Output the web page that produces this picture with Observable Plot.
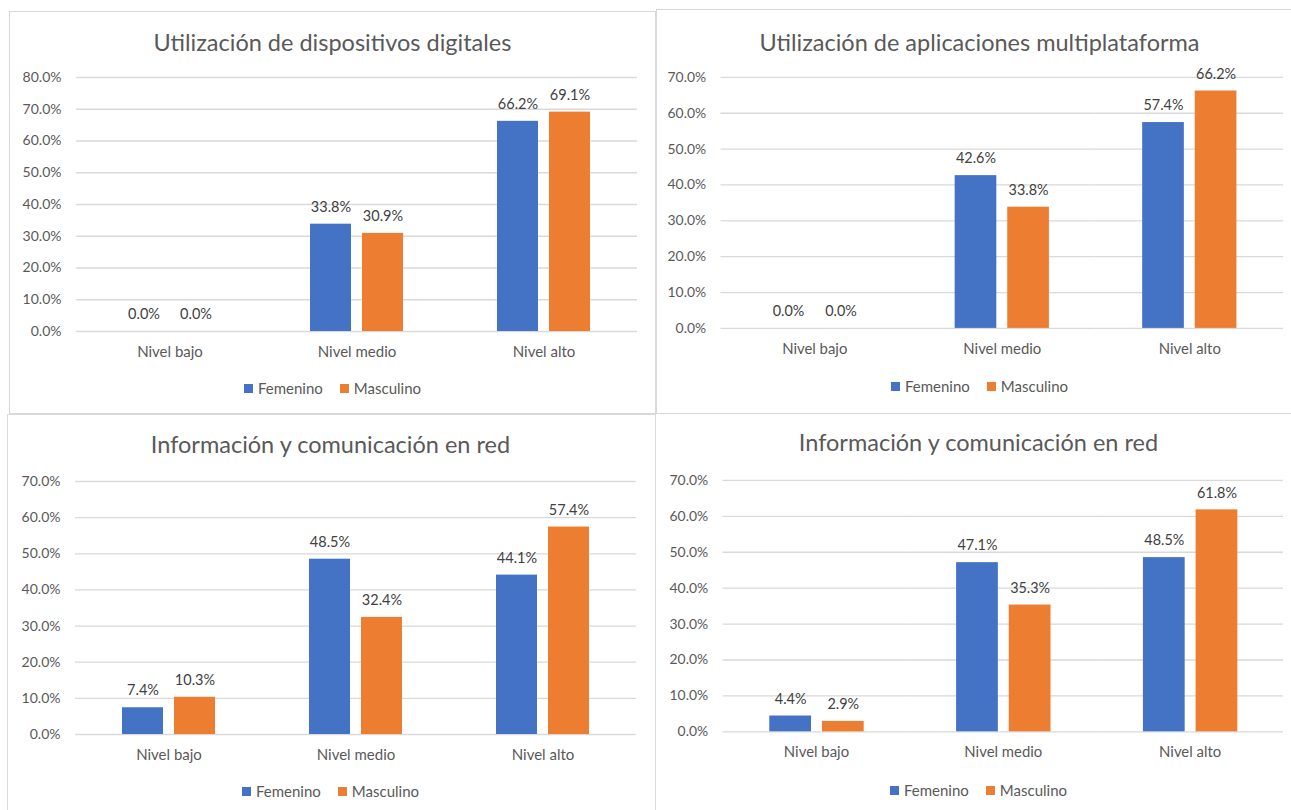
<!DOCTYPE html>
<html>
<head>
<meta charset="utf-8">
<script src="https://cdn.jsdelivr.net/npm/d3@7"></script>
<script src="https://cdn.jsdelivr.net/npm/@observablehq/plot@0.6"></script>
<style>
  html, body { margin: 0; padding: 0; background: #fff; overflow: hidden; }
  body { width: 1291px; height: 810px; position: relative; font-family: Lato, "Open Sans", sans-serif; }
  .panel { position: absolute; border: 1.5px solid #d9d9d9; box-sizing: border-box; background: #fff; }
  .title { position: absolute; text-align: center; color: #595959; font-size: 23.5px; white-space: nowrap; }
  .chart { position: absolute; }
  .legend { position: absolute; display: flex; justify-content: center; align-items: center; gap: 17px; color: #595959; font-size: 15px; }
  .legend span.item { display: inline-flex; align-items: center; gap: 5px; }
  .legend span.sw { display: inline-block; width: 9px; height: 9px; }
</style>
</head>
<body>
<script>
// ---------- data ----------
const categories = ["Nivel bajo", "Nivel medio", "Nivel alto"];
const sexes = ["Femenino", "Masculino"];
const titles = [
  "Utilización de dispositivos digitales",
  "Utilización de aplicaciones multiplataforma",
  "Información y comunicación en red",
  "Información y comunicación en red"
];
const femenino1 = [0.0, 33.8, 66.2];
const masculino1 = [0.0, 30.9, 69.1];
const femenino2 = [0.0, 42.6, 57.4];
const masculino2 = [0.0, 33.8, 66.2];
const femenino3 = [7.4, 48.5, 44.1];
const masculino3 = [10.3, 32.4, 57.4];
const femenino4 = [4.4, 47.1, 48.5];
const masculino4 = [2.9, 35.3, 61.8];
const yTicks1 = [0, 10, 20, 30, 40, 50, 60, 70, 80];
const yTicks2 = [0, 10, 20, 30, 40, 50, 60, 70];

// ---------- styling / layout ----------
const colors = ["#4472C4", "#ED7D31"];
const pct = d => d.toFixed(1) + "%";

const layouts = [
  {panel: [9, 11, 647, 403], title: 42, svg: [9, 62], w: 640, mt: 15, plotH: 254, ml: 66, mr: 11, legend: 388},
  {panel: [656, 9, 660, 405], title: 42, svg: [656, 62], w: 640, mt: 15, plotH: 253, ml: 65, mr: 8, legend: 386},
  {panel: [7, 414, 649, 410], title: 444, svg: [7, 466], w: 640, mt: 15, plotH: 253, ml: 68, mr: 11, legend: 791},
  {panel: [655, 413, 660, 410], title: 442, svg: [655, 465], w: 640, mt: 15, plotH: 253, ml: 67, mr: 7, legend: 790}
];

const series = [
  [femenino1, masculino1, yTicks1],
  [femenino2, masculino2, yTicks2],
  [femenino3, masculino3, yTicks2],
  [femenino4, masculino4, yTicks2]
];

function el(tag, cls, css) {
  const e = document.createElement(tag);
  if (cls) e.className = cls;
  Object.assign(e.style, css || {});
  document.body.appendChild(e);
  return e;
}

series.forEach(([fem, masc, ticks], i) => {
  const L = layouts[i];
  const [px, py, pw, ph] = L.panel;
  el("div", "panel", {left: px + "px", top: py + "px", width: pw + "px", height: ph + "px"});

  const t = el("div", "title", {left: px + "px", width: "647px", top: (L.title - 14) + "px", lineHeight: "28px"});
  t.textContent = titles[i];

  const table = [];
  categories.forEach((c, k) => {
    table.push({category: c, sex: sexes[0], value: fem[k]});
    table.push({category: c, sex: sexes[1], value: masc[k]});
  });

  const mb = 32;
  const chart = Plot.plot({
    width: L.w,
    height: L.mt + L.plotH + mb,
    marginLeft: L.ml,
    marginRight: L.mr,
    marginTop: L.mt,
    marginBottom: mb,
    style: {fontFamily: "Lato, 'Open Sans', sans-serif", fontSize: "14px", color: "#595959", background: "transparent", overflow: "visible"},
    fx: {domain: categories, padding: 0, label: null},
    x: {domain: sexes, paddingInner: 0.21, paddingOuter: 0.87, axis: null},
    y: {domain: [0, ticks[ticks.length - 1]], label: null},
    color: {domain: sexes, range: colors},
    marks: [
      Plot.gridY(ticks, {stroke: "#d9d9d9", strokeOpacity: 1, strokeWidth: 1.3}),
      Plot.barY(table, {fx: "category", x: "sex", y: "value", fill: "sex"}),
      Plot.text(table, {fx: "category", x: "sex", y: "value", text: d => pct(d.value), dy: -17, fill: "#404040", fontSize: 14.5}),
      Plot.axisY(ticks, {tickSize: 0, tickPadding: 15, tickFormat: pct, fill: "#595959", fontSize: 14, label: null}),
      Plot.axisFx({anchor: "bottom", tickSize: 0, tickPadding: 15, fill: "#595959", fontSize: 15, label: null})
    ]
  });
  const holder = el("div", "chart", {left: L.svg[0] + "px", top: L.svg[1] + "px"});
  holder.appendChild(chart);

  const lg = el("div", "legend", {left: px + "px", width: "647px", top: (L.legend - 10) + "px", height: "20px"});
  sexes.forEach((s, k) => {
    const it = document.createElement("span");
    it.className = "item";
    const sw = document.createElement("span");
    sw.className = "sw";
    sw.style.background = colors[k];
    const tx = document.createElement("span");
    tx.textContent = s;
    it.appendChild(sw); it.appendChild(tx);
    lg.appendChild(it);
  });
});
</script>
</body>
</html>
